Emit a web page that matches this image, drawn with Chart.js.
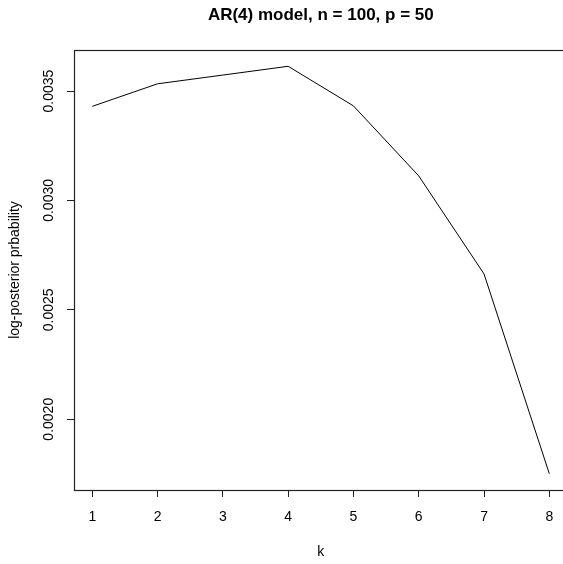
<!DOCTYPE html>
<html>
<head>
<meta charset="utf-8">
<script src="https://cdn.jsdelivr.net/npm/chart.js@4/dist/chart.umd.min.js"></script>
<style>
html,body{margin:0;padding:0;overflow:hidden;background:#fff;}
#wrap{width:563px;height:564px;overflow:hidden;}
canvas{display:block;}
</style>
</head>
<body>
<div id="wrap"><canvas id="c" width="572" height="564"></canvas></div>
<script>
const titleText = "AR(4) model, n = 100, p = 50";
const xTitle = "k";
const yTitle = "log-posterior prbability";
const kValues = [1, 2, 3, 4, 5, 6, 7, 8];
const logPost = [0.003430, 0.003533, 0.003573, 0.003613, 0.003432, 0.003112, 0.002664, 0.001751];
const xTicks = [1, 2, 3, 4, 5, 6, 7, 8];
const yTicks = [0.0020, 0.0025, 0.0030, 0.0035];

// R-style 4% axis extension
function rRange(arr){
  const lo = Math.min(...arr), hi = Math.max(...arr);
  const pad = (hi - lo) * 0.04;
  return [lo - pad, hi + pad];
}
const [xMin, xMax] = rRange(kValues);
const [yMin, yMax] = rRange(logPost);

const FONT = "'Liberation Sans', Arial, sans-serif";

const boxPlugin = {
  id: 'rbox',
  afterLayout(chart){
    const t = chart.titleBlock;
    if (t){ t.left = chart.chartArea.left; t.right = chart.chartArea.right; t.width = t.right - t.left; }
  },
  afterDatasetsDraw(chart){
    const {ctx, chartArea:{left,top,right,bottom}} = chart;
    ctx.save();
    ctx.strokeStyle = '#222';
    ctx.lineWidth = 1.2;
    ctx.strokeRect(Math.round(left)+0.5, Math.round(top)+0.5, Math.round(right)-Math.round(left), Math.round(bottom)-Math.round(top));
    ctx.restore();
  }
};

new Chart(document.getElementById('c'), {
  type: 'line',
  data: {
    datasets: [{
      data: kValues.map((k, i) => ({x: k, y: logPost[i]})),
      borderColor: '#000',
      borderWidth: 1,
      pointRadius: 0,
      tension: 0,
      fill: false
    }]
  },
  options: {
    responsive: false,
    animation: false,
    devicePixelRatio: 1,
    layout: { padding: { left: 0, top: 0, right: 4.4, bottom: 0 } },
    plugins: {
      legend: { display: false },
      tooltip: { enabled: false },
      title: {
        display: true,
        text: titleText,
        color: '#000',
        font: { family: FONT, size: 17, weight: 'bold', lineHeight: 1.2 },
        padding: { top: 4.8, bottom: 24.8 }
      }
    },
    scales: {
      x: {
        type: 'linear',
        min: xMin,
        max: xMax,
        afterBuildTicks(scale){ scale.ticks = xTicks.map(v => ({value: v})); },
        afterFit(scale){ scale.height = 74; },
        border: { display: false },
        grid: { display: true, drawOnChartArea: false, tickLength: 7, color: '#222', lineWidth: 1 },
        ticks: { color: '#000', font: { family: FONT, size: 14 }, padding: 11.6, autoSkip: false, maxRotation: 0, callback: v => String(v) },
        title: { display: true, text: xTitle, color: '#000', font: { family: FONT, size: 14 }, padding: { top: 0, bottom: 3.6 } }
      },
      y: {
        type: 'linear',
        min: yMin,
        max: yMax,
        afterBuildTicks(scale){ scale.ticks = yTicks.map(v => ({value: v})); },
        afterFit(scale){ scale.width = 74; },
        border: { display: false },
        grid: { display: true, drawOnChartArea: false, tickLength: 7, color: '#222', lineWidth: 1 },
        ticks: { color: '#000', font: { family: FONT, size: 14 }, minRotation: 90, maxRotation: 90, crossAlign: 'center', padding: -3.2, autoSkip: false, callback: v => v.toFixed(4) },
        title: { display: true, text: yTitle, color: '#000', font: { family: FONT, size: 14 }, padding: { top: 6.6, bottom: 0 } }
      }
    }
  },
  plugins: [boxPlugin]
});
</script>
</body>
</html>
